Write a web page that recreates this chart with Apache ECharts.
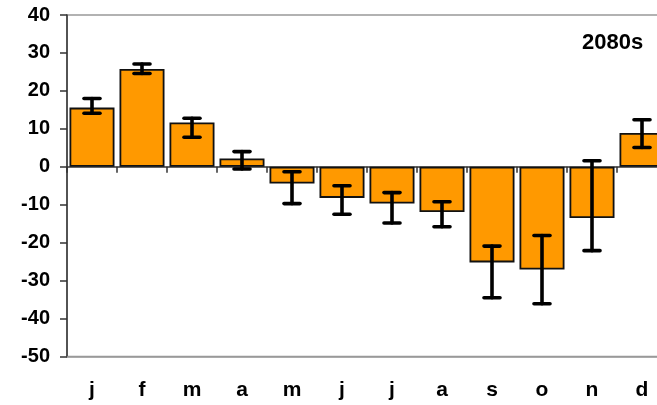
<!DOCTYPE html>
<html><head><meta charset="utf-8">
<script src="https://cdn.jsdelivr.net/npm/echarts@6/dist/echarts.min.js"></script>
<style>html,body{margin:0;padding:0;background:#fff}#c{width:657px;height:405px}</style>
</head><body><div id="c"></div>
<script>
const months = ['j','f','m','a','m','j','j','a','s','o','n','d'];
const values = [15.6, 25.8, 11.7, 2.2, -4.4, -8.2, -9.7, -11.9, -25.2, -27.1, -13.5, 8.9];
const errHigh = [18.0, 27.1, 12.8, 4.0, -1.3, -5.0, -6.8, -9.2, -20.9, -18.1, 1.6, 12.4];
const errLow = [14.1, 24.6, 7.8, -0.6, -9.7, -12.5, -14.8, -15.8, -34.5, -36.1, -22.1, 5.1];
const yTicks = {min: -50, max: 40, interval: 10};
const periodLabel = '2080s';

const font = 'Liberation Sans, Arial, sans-serif';
const chart = echarts.init(document.getElementById('c'), null, {renderer: 'canvas'});
chart.setOption({
  animation: false,
  title: {text: periodLabel, left: 577, top: 27,
    textStyle: {fontFamily: font, fontWeight: 'bold', fontSize: 22, color: '#000'}},
  grid: {left: 67, top: 15, width: 600, height: 341.5, show: true,
    outerBoundsMode: 'none', containLabel: false,
    borderColor: '#999', borderWidth: 1.5, backgroundColor: 'transparent'},
  xAxis: [{
    type: 'category', data: months, position: 'bottom',
    axisLine: {onZero: false, lineStyle: {color: '#999', width: 1.5}},
    axisTick: {show: false},
    axisLabel: {margin: 23, fontFamily: font, fontWeight: 'bold', fontSize: 21, color: '#000'}
  }, {
    type: 'category', data: months, position: 'top',
    axisLine: {onZero: true, lineStyle: {color: '#333', width: 1.5}},
    axisTick: {show: true, inside: true, length: 6, lineStyle: {color: '#333', width: 1.5}},
    axisLabel: {show: false}
  }],
  yAxis: {
    type: 'value', min: yTicks.min, max: yTicks.max, interval: yTicks.interval,
    axisLine: {show: true, onZero: false, lineStyle: {color: '#333', width: 1.5}},
    axisTick: {show: true, length: 7, lineStyle: {color: '#333', width: 1.5}},
    splitLine: {show: false},
    axisLabel: {margin: 17, fontFamily: font, fontWeight: 'bold', fontSize: 20, color: '#000'}
  },
  series: [{
    type: 'bar', data: values, xAxisIndex: 0, barCategoryGap: '10%',
    itemStyle: {color: '#FF9900', borderColor: '#111', borderWidth: 1.8}
  }, {
    type: 'custom', xAxisIndex: 0, z: 10,
    data: months.map((m, i) => [i, errLow[i], errHigh[i]]),
    renderItem: function (params, api) {
      const i = api.value(0);
      const lo = api.coord([i, api.value(1)]);
      const hi = api.coord([i, api.value(2)]);
      const hw = 8;
      const st = {stroke: '#000', lineWidth: 3.6, lineCap: 'round'};
      return {type: 'group', children: [
        {type: 'line', shape: {x1: lo[0], y1: lo[1], x2: hi[0], y2: hi[1]}, style: st},
        {type: 'line', shape: {x1: hi[0]-hw, y1: hi[1], x2: hi[0]+hw, y2: hi[1]}, style: st},
        {type: 'line', shape: {x1: lo[0]-hw, y1: lo[1], x2: lo[0]+hw, y2: lo[1]}, style: st}
      ]};
    }
  }]
});
</script></body></html>
